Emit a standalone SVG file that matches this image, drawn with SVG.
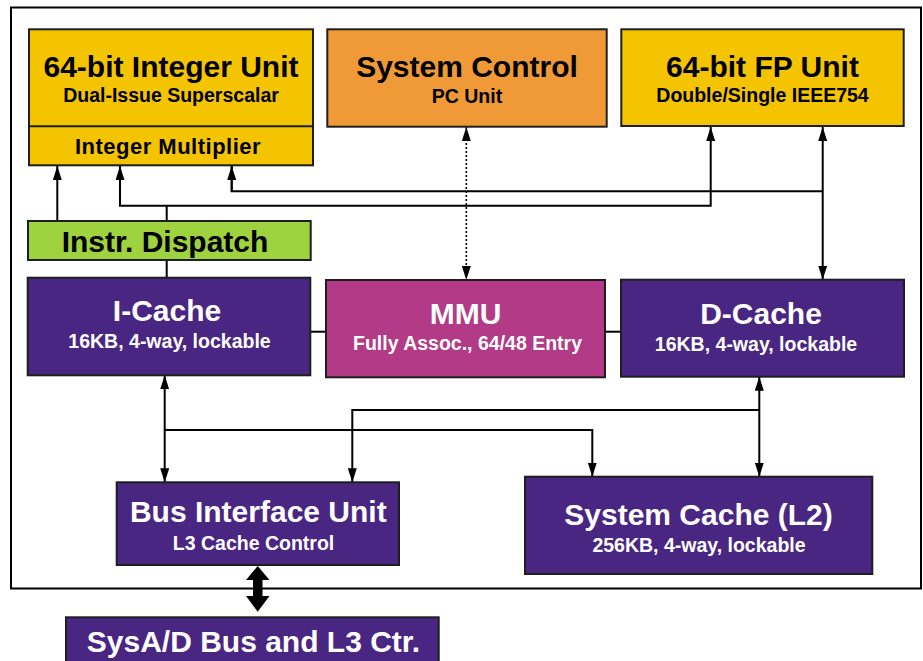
<svg xmlns="http://www.w3.org/2000/svg" width="923" height="661" viewBox="0 0 923 661">
<style>
.box{stroke:#1e1e1e;stroke-width:2}
.yel{fill:#F5C400}
.org{fill:#EF9A36}
.grn{fill:#9FD23F}
.pur{fill:#4A2683}
.mag{fill:#B23A86}
text{font-family:"Liberation Sans",Arial,Helvetica,sans-serif;font-weight:bold;text-anchor:middle}
.t{font-size:30px}
.s{font-size:19.5px}
.dk{fill:#000}
.wh{fill:#fff}
.ln{fill:none;stroke:#000;stroke-width:2}
.dot{stroke-dasharray:2 2;stroke-width:1.6}
</style>
<defs>
<marker id="ah" markerUnits="userSpaceOnUse" markerWidth="15" markerHeight="10" refX="14" refY="4.5" orient="auto-start-reverse">
<path d="M0,0 L14,4.5 L0,9 z" fill="#000"/>
</marker>
</defs>
<rect x="0" y="0" width="923" height="661" fill="#fff"/>
<rect id="frame" x="11" y="7.5" width="910" height="581" fill="none" stroke="#000" stroke-width="2"/>

<g id="connectors">
<path class="ln" d="M57.3,221 V166" marker-end="url(#ah)"/>
<path class="ln" d="M166.7,221 V205.7"/>
<path class="ln" d="M120,166 V205.7 H710.7 V127" marker-start="url(#ah)" marker-end="url(#ah)"/>
<path class="ln" d="M231.7,166 V191.3 H822.7"/>
<path class="ln" d="M231.7,191.3 V166" marker-end="url(#ah)"/>
<path class="ln" d="M822.7,127 V279.7" marker-start="url(#ah)" marker-end="url(#ah)"/>
<path class="ln" d="M166.7,260 V277.7"/>
<path class="ln dot" d="M466.3,127 V280" marker-start="url(#ah)" marker-end="url(#ah)"/>
<path class="ln" d="M310,331.7 H326"/>
<path class="ln" d="M605,331.7 H621"/>
<path class="ln" d="M164.7,375.3 V482.3" marker-start="url(#ah)" marker-end="url(#ah)"/>
<path class="ln" d="M164.7,430 H592.3 V476.7" marker-end="url(#ah)"/>
<path class="ln" d="M759.3,410 H352.3 V482.3" marker-end="url(#ah)"/>
<path class="ln" d="M759.3,376.7 V476.7" marker-start="url(#ah)" marker-end="url(#ah)"/>
<polygon points="257.7,566 269.5,580 262.5,580 262.5,596 269.5,596 257.7,611.7 246,596 253,596 253,580 246,580" fill="#000"/>
</g>

<g id="integer-unit">
<rect class="box yel" x="29" y="29.3" width="284" height="136"/>
<line x1="29" y1="126.3" x2="313" y2="126.3" stroke="#1e1e1e" stroke-width="2"/>
<text class="t dk" x="171" y="76.7">64-bit Integer Unit</text>
<text class="s dk" x="171" y="102.3">Dual-Issue Superscalar</text>
<text class="dk" x="168" y="154.3" style="font-size:22px;letter-spacing:0.5px">Integer Multiplier</text>
</g>

<g id="system-control">
<rect class="box org" x="327.3" y="29.3" width="279.4" height="97.4"/>
<text class="t dk" x="467" y="76.7">System Control</text>
<text class="s dk" x="467" y="102.7">PC Unit</text>
</g>

<g id="fp-unit">
<rect class="box yel" x="621.3" y="29.3" width="282.4" height="96.7"/>
<text class="t dk" x="762.5" y="76.7">64-bit FP Unit</text>
<text class="s dk" x="762.5" y="101.7">Double/Single IEEE754</text>
</g>

<g id="instr-dispatch">
<rect class="box grn" x="28" y="221" width="282.7" height="39"/>
<text class="t dk" x="165" y="251.7">Instr. Dispatch</text>
</g>

<g id="i-cache">
<rect class="box pur" x="27.7" y="277.7" width="282.6" height="97.6"/>
<text class="t wh" x="167" y="321">I-Cache</text>
<text class="s wh" x="169.5" y="348.3">16KB, 4-way, lockable</text>
</g>

<g id="mmu">
<rect class="box mag" x="326" y="280" width="279" height="97.3"/>
<text class="t wh" x="465.5" y="324.3">MMU</text>
<text class="s wh" x="467.5" y="350">Fully Assoc., 64/48 Entry</text>
</g>

<g id="d-cache">
<rect class="box pur" x="621" y="279.7" width="283" height="97"/>
<text class="t wh" x="761" y="324">D-Cache</text>
<text class="s wh" x="756" y="351">16KB, 4-way, lockable</text>
</g>

<g id="bus-interface-unit">
<rect class="box pur" x="116.7" y="482.3" width="282.3" height="82.7"/>
<text class="t wh" x="258.3" y="521.7">Bus Interface Unit</text>
<text class="s wh" x="253.5" y="550">L3 Cache Control</text>
</g>

<g id="system-cache">
<rect class="box pur" x="525" y="476.7" width="347.3" height="97.3"/>
<text class="t wh" x="698.5" y="525">System Cache (L2)</text>
<text class="s wh" x="699" y="551.7">256KB, 4-way, lockable</text>
</g>

<g id="sysad-bus">
<rect class="box pur" x="66" y="617.3" width="372.7" height="60"/>
<text class="t wh" x="253.5" y="651.7">SysA/D Bus and L3 Ctr.</text>
</g>
</svg>
